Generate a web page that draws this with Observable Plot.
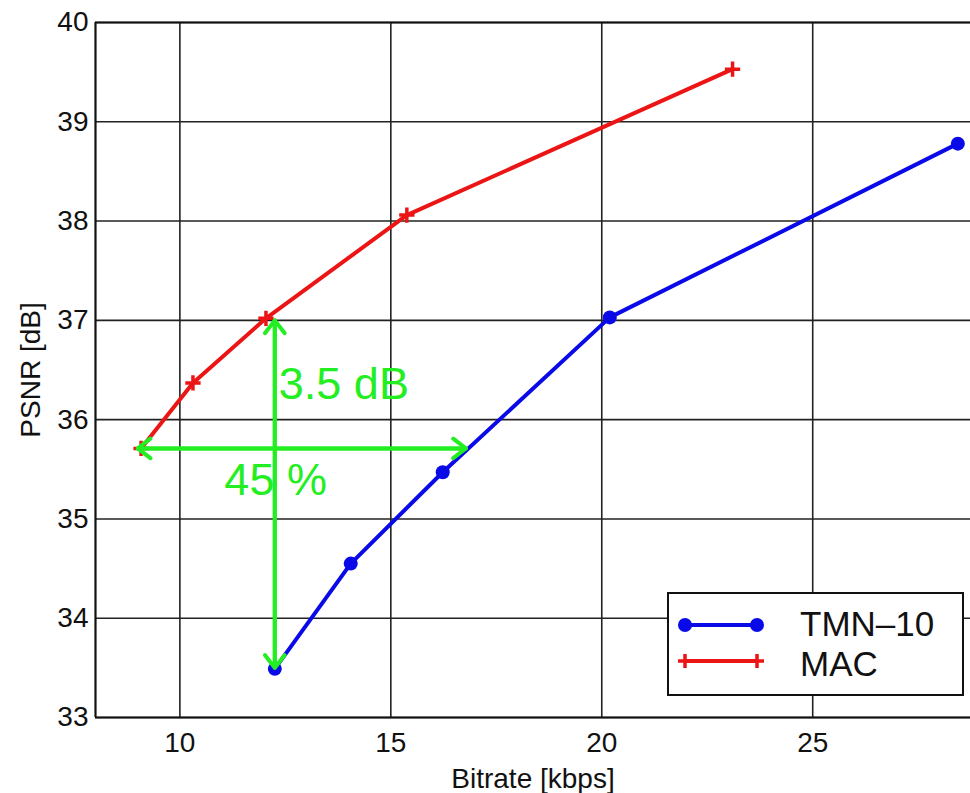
<!DOCTYPE html>
<html>
<head>
<meta charset="utf-8">
<script src="https://cdn.jsdelivr.net/npm/d3@7"></script>
<script src="https://cdn.jsdelivr.net/npm/@observablehq/plot@0.6"></script>
<style>
  html, body { margin: 0; padding: 0; background: #fff; }
  #wrap { position: relative; width: 970px; height: 793px; overflow: hidden;
          font-family: "Liberation Sans", Arial, Helvetica, sans-serif; }
  #legend { position: absolute; left: 667px; top: 592px; width: 297px; height: 104px;
            box-sizing: border-box; border: 2px solid #111; background: #fff; }
  #legend svg { position: absolute; left: 0; top: 0; }
  .lg-text { position: absolute; left: 131px; font-size: 35px; line-height: 40px; height: 40px; color: #111; white-space: nowrap; }
</style>
</head>
<body>
<div id="wrap"></div>
<script>
// ---- data ----
const seriesNames = ["TMN–10", "MAC"];
const seriesColors = ["#0a0ae8", "#ec1515"];
const bitrateTMN = [12.25, 14.05, 16.23, 20.19, 28.44];
const psnrTMN    = [33.49, 34.55, 35.47, 37.03, 38.78];
const bitrateMAC = [9.08, 10.31, 12.04, 15.38, 23.1];
const psnrMAC    = [35.71, 36.37, 37.02, 38.06, 39.53];

const xTicks = [10, 15, 20, 25];
const yTicks = [33, 34, 35, 36, 37, 38, 39, 40];
const xDomain = [8, 28.74];
const yDomain = [33, 40];

// annotation (green) arrows and labels
const arrowX1 = [12.25, 9.0];
const arrowY1 = [33.5, 35.71];
const arrowX2 = [12.25, 16.78];
const arrowY2 = [37.0, 35.71];
const gainLabel = ["3.5 dB"];
const gainX = [12.25];
const gainY = [36.35];
const rateLabel = ["45 %"];
const rateX = [12.27];
const rateY = [35.39];
const annotColor = "#22ee22";

// ---- tables ----
const tmn = bitrateTMN.map((x, i) => ({x, y: psnrTMN[i]}));
const mac = bitrateMAC.map((x, i) => ({x, y: psnrMAC[i]}));
const arrows = arrowX1.map((x1, i) => ({x1, y1: arrowY1[i], x2: arrowX2[i], y2: arrowY2[i]}));
const gainTbl = gainLabel.map((t, i) => ({t, x: gainX[i], y: gainY[i]}));
const rateTbl = rateLabel.map((t, i) => ({t, x: rateX[i], y: rateY[i]}));

const font = '"Liberation Sans", Arial, Helvetica, sans-serif';

const chart = Plot.plot({
  width: 970,
  height: 793,
  marginLeft: 95,
  marginRight: 0,
  marginTop: 22,
  marginBottom: 76,
  style: { fontFamily: font, fontSize: "28px", color: "#111", background: "#fff", overflow: "visible" },
  x: { domain: xDomain },
  y: { domain: yDomain },
  marks: [
    Plot.gridX(xTicks, { stroke: "#222", strokeOpacity: 1, strokeWidth: 1.6 }),
    Plot.gridY(yTicks, { stroke: "#222", strokeOpacity: 1, strokeWidth: 1.6 }),
    Plot.ruleX([xDomain[0]], { stroke: "#111", strokeWidth: 2.2 }),
    Plot.ruleY(yDomain, { stroke: "#111", strokeWidth: 2.2 }),
    Plot.axisX({ ticks: xTicks, tickFormat: d => String(d), tickSize: 0, tickPadding: 15, fontSize: 28,
                 label: "Bitrate [kbps]", labelAnchor: "center", labelArrow: "none", labelOffset: 70 }),
    Plot.axisY({ ticks: yTicks, tickFormat: d => String(d), tickSize: 0, tickPadding: 7, fontSize: 28,
                 label: "PSNR [dB]", labelAnchor: "center", labelArrow: "none", labelOffset: 75 }),
    Plot.line(tmn, { x: "x", y: "y", stroke: seriesColors[0], strokeWidth: 4 }),
    Plot.dot(tmn, { x: "x", y: "y", r: 7, fill: seriesColors[0], stroke: "none" }),
    Plot.line(mac, { x: "x", y: "y", stroke: seriesColors[1], strokeWidth: 4 }),
    Plot.dot(mac, { x: "x", y: "y", symbol: "plus", r: 5, stroke: seriesColors[1], strokeWidth: 3.5 }),
    Plot.arrow(arrows, { x1: "x1", y1: "y1", x2: "x2", y2: "y2", stroke: annotColor, strokeWidth: 4,
                         headLength: 6, headAngle: 75 }),
    Plot.arrow(arrows, { x1: "x2", y1: "y2", x2: "x1", y2: "y1", stroke: annotColor, strokeWidth: 4,
                         headLength: 6, headAngle: 75 }),
    Plot.text(gainTbl, { x: "x", y: "y", text: "t", textAnchor: "start", dx: 4, fill: annotColor,
                         fontSize: 45, lineAnchor: "middle" }),
    Plot.text(rateTbl, { x: "x", y: "y", text: "t", textAnchor: "middle", fill: annotColor,
                         fontSize: 45, lineAnchor: "middle" })
  ]
});

const wrap = document.getElementById("wrap");
wrap.appendChild(chart);

// legend overlay (inside plot, lower right)
const legend = document.createElement("div");
legend.id = "legend";
const ns = "http://www.w3.org/2000/svg";
const sw = document.createElementNS(ns, "svg");
sw.setAttribute("width", "120");
sw.setAttribute("height", "100");
const swatchY = [31, 67];
const textY = [30, 70];
seriesNames.forEach((name, i) => {
  const y = swatchY[i];
  const ln = document.createElementNS(ns, "line");
  ln.setAttribute("x1", 16); ln.setAttribute("x2", 88);
  ln.setAttribute("y1", y); ln.setAttribute("y2", y);
  ln.setAttribute("stroke", seriesColors[i]); ln.setAttribute("stroke-width", 4);
  sw.appendChild(ln);
  [16, 88].forEach(cx => {
    if (i === 0) {
      const c = document.createElementNS(ns, "circle");
      c.setAttribute("cx", cx); c.setAttribute("cy", y); c.setAttribute("r", 7);
      c.setAttribute("fill", seriesColors[i]);
      sw.appendChild(c);
    } else {
      const p = document.createElementNS(ns, "path");
      p.setAttribute("d", `M${cx-7},${y}H${cx+7}M${cx},${y-7}V${y+7}`);
      p.setAttribute("stroke", seriesColors[i]); p.setAttribute("stroke-width", 3.5);
      sw.appendChild(p);
    }
  });
  const t = document.createElement("div");
  t.className = "lg-text";
  t.style.top = (textY[i] - 20) + "px";
  t.textContent = name;
  legend.appendChild(t);
});
legend.appendChild(sw);
wrap.appendChild(legend);
</script>
</body>
</html>
